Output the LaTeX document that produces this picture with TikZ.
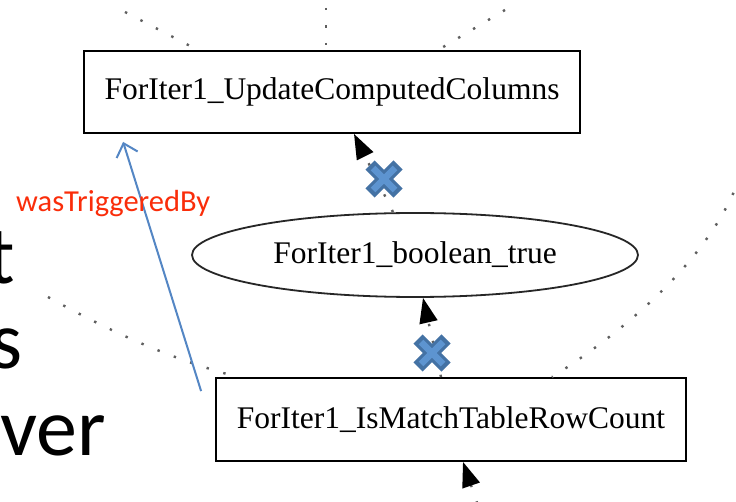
\documentclass[tikz,border=0pt]{standalone}
\usepackage{fontspec}
\setmainfont{Liberation Serif}
\newfontfamily\calfont{Carlito}
\usetikzlibrary{arrows.meta,shapes.geometric}
\definecolor{gvgray}{RGB}{95,95,95}
\definecolor{xouter}{RGB}{68,114,164}
\definecolor{xinner}{RGB}{93,148,208}
\definecolor{trigblue}{RGB}{84,134,196}
\definecolor{trigred}{RGB}{250,45,10}
\tikzset{
  gvbox/.style={draw=black, line width=1.8pt, rectangle, inner sep=0pt,
    font=\fontsize{31.5}{36}\selectfont},
  gvell/.style={draw=black!85, line width=1.8pt, ellipse, inner sep=0pt,
    font=\fontsize{31.5}{36}\selectfont},
  gvdots/.style={gvgray, line width=2.4pt, dash pattern=on 2.4pt off 15pt},
  gvedge/.style={gvdots, -{Triangle[length=25pt,width=18pt,color=black]}},
  trig/.style={trigblue, line width=2pt, -{Straight Barb[length=12pt,width=22pt]}},
  slidetext/.style={font=\calfont\fontsize{82}{96}\selectfont, anchor=base west, inner sep=0pt},
  xmark/.pic={
    \draw[xouter, line width=13pt] (-14,-14) -- (14,14) (-14,14) -- (14,-14);
    \draw[xinner, line width=6.5pt] (-11,-11) -- (11,11) (-11,11) -- (11,-11);
  }
}
\begin{document}
\begin{tikzpicture}[x=1pt, y=-1pt]
  \clip (0,0) rectangle (736,502);
  \fill[white] (0,0) rectangle (736,502);

  % slide text fragments on the left
  \node[slidetext] (s1) at (-13,284) {t};
  \node[slidetext] (s2) at (-10,369) {s};
  \node[slidetext] (s3) at (0,455) {ver};

  % graph nodes
  \node[gvbox, minimum width=496pt, minimum height=82pt] (b1) at (332,92) {ForIter1\_UpdateComputedColumns};
  \node[gvell, minimum width=446pt, minimum height=84pt] (e1) at (415,255) {ForIter1\_boolean\_true};
  \node[gvbox, minimum width=470pt, minimum height=83pt] (b2) at (451,419.5) {ForIter1\_IsMatchTableRowCount};

  % incoming edges from outside the view
  \coordinate (t1) at (125,12);
  \coordinate (t2) at (326,8);
  \coordinate (t3) at (505,10);
  \coordinate (t4) at (48,297);
  \coordinate (t5) at (745,160);
  \coordinate (t6) at (483,520);
  \draw[gvdots] (t1) -- ([xshift=-134pt]b1.north);
  \draw[gvdots] (t2) -- ([xshift=-6pt]b1.north);
  \draw[gvdots] (t3) -- ([xshift=106pt]b1.north);
  \draw[gvdots] (t4) .. controls (120,337) and (178,361) .. ([xshift=-213pt]b2.north);
  \draw[gvdots] (t5) .. controls (725,240) and (645,318) .. ([xshift=101pt]b2.north);

  % edges between nodes
  \draw[gvedge] ([xshift=-22pt]e1.north) -- ([xshift=22pt]b1.south);
  \draw[gvedge] ([xshift=-10pt]b2.north) -- ([xshift=8pt]e1.south);
  \draw[gvedge] (t6) -- ([xshift=12pt]b2.south);

  % crosses
  \pic at (384,179) {xmark};
  \pic at (432,353) {xmark};

  % wasTriggeredBy relation
  \draw[trig] ([shift={(-14,14)}]b2.north west) -- ([shift={(40,8)}]b1.south west);
  \node[font=\calfont\fontsize{30.5}{34}\selectfont, text=trigred, anchor=base west, inner sep=0pt] (lbl) at (16,212) {wasTriggeredBy};
\end{tikzpicture}
\end{document}
